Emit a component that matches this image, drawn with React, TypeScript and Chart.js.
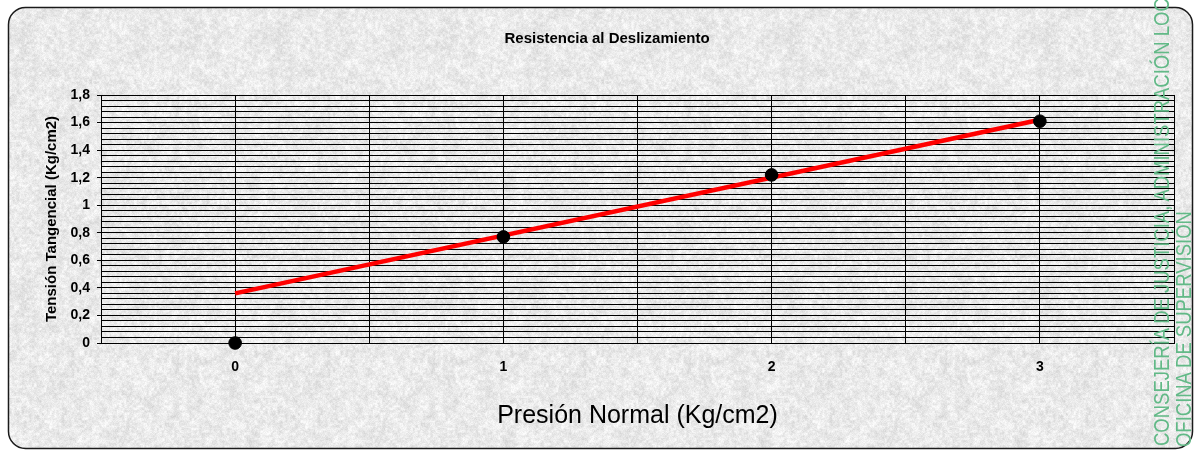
import React, { useEffect, useRef } from "react";
import { Chart, registerables } from "chart.js";

Chart.register(...registerables);

// ---- data ----
const xValues = [0, 1, 2, 3];
const yValues = [0, 0.77, 1.22, 1.61];
const trendX = [0, 3];
const trendY = [0.36, 1.62];
const xTickLabels = ["0", "1", "2", "3"];
const yTickLabels = ["0", "0,2", "0,4", "0,6", "0,8", "1", "1,2", "1,4", "1,6", "1,8"];

const FONT = "'Liberation Sans', Arial, sans-serif";
const W = 1195;
const H = 450;

function hash2(x: number, y: number): number {
  let h = (Math.imul(x, 374761393) + Math.imul(y, 668265263)) | 0;
  h = Math.imul(h ^ (h >>> 13), 1274126177);
  h = h ^ (h >>> 16);
  return (h >>> 0) / 4294967296;
}

function valueNoise(x: number, y: number, period: number): number {
  const x0 = Math.floor(x);
  const y0 = Math.floor(y);
  const fx = x - x0;
  const fy = y - y0;
  const sx = fx * fx * (3 - 2 * fx);
  const sy = fy * fy * (3 - 2 * fy);
  const w = (v: number) => ((v % period) + period) % period;
  const a = hash2(w(x0), w(y0));
  const b = hash2(w(x0 + 1), w(y0));
  const c = hash2(w(x0), w(y0 + 1));
  const d = hash2(w(x0 + 1), w(y0 + 1));
  return (a * (1 - sx) + b * sx) * (1 - sy) + (c * (1 - sx) + d * sx) * sy;
}

function makeTexture(): HTMLCanvasElement {
  const size = 256;
  const c = document.createElement("canvas");
  c.width = size;
  c.height = size;
  const g = c.getContext("2d")!;
  const img = g.createImageData(size, size);
  for (let y = 0; y < size; y++) {
    for (let x = 0; x < size; x++) {
      const n1 = valueNoise(x / 8, y / 8, size / 8);
      const n2 = valueNoise(x / 2.5, y / 2.5, Math.round(size / 2.5));
      const n3 = hash2(x + 1000, y + 2000);
      const v = 0.25 * n1 + 0.45 * n2 + 0.3 * n3;
      let gray = 208 + v * 52;
      if (gray > 252) gray = 252;
      const i = (y * size + x) * 4;
      img.data[i] = gray;
      img.data[i + 1] = gray;
      img.data[i + 2] = gray;
      img.data[i + 3] = 255;
    }
  }
  g.putImageData(img, 0, 0);
  return c;
}

function roundRectPath(ctx: CanvasRenderingContext2D, x: number, y: number, w: number, h: number, r: number) {
  ctx.beginPath();
  ctx.moveTo(x + r, y);
  ctx.lineTo(x + w - r, y);
  ctx.arcTo(x + w, y, x + w, y + r, r);
  ctx.lineTo(x + w, y + h - r);
  ctx.arcTo(x + w, y + h, x + w - r, y + h, r);
  ctx.lineTo(x + r, y + h);
  ctx.arcTo(x, y + h, x, y + h - r, r);
  ctx.lineTo(x, y + r);
  ctx.arcTo(x, y, x + r, y, r);
  ctx.closePath();
}

const isMajorY = (v: number) => Math.abs(v / 0.2 - Math.round(v / 0.2)) < 1e-6;

export default function App() {
  const ref = useRef<HTMLCanvasElement | null>(null);

  useEffect(() => {
    document.body.style.margin = "0";
    const canvas = ref.current!;
    const texture = makeTexture();

    const bgPlugin = {
      id: "bgPlugin",
      beforeDraw(chart: any) {
        const ctx: CanvasRenderingContext2D = chart.ctx;
        ctx.save();
        ctx.fillStyle = "#ffffff";
        ctx.fillRect(0, 0, W, H);
        const pat = ctx.createPattern(texture, "repeat");
        roundRectPath(ctx, 8.5, 7.5, 1184, 441, 17);
        ctx.fillStyle = pat || "#e6e6e6";
        ctx.fill();
        ctx.lineWidth = 1.5;
        ctx.strokeStyle = "#1a1a1a";
        ctx.stroke();
        ctx.restore();
      },
    };

    const chart = new Chart(canvas, {
      type: "scatter",
      data: {
        datasets: [
          {
            label: "Puntos",
            data: xValues.map((x, i) => ({ x, y: yValues[i] })),
            backgroundColor: "#000000",
            borderColor: "#000000",
            pointRadius: 6.3,
            pointHoverRadius: 6.3,
            showLine: false,
            clip: false as any,
            order: 0,
          },
          {
            label: "Ajuste",
            data: trendX.map((x, i) => ({ x, y: trendY[i] })),
            borderColor: "#ff0000",
            backgroundColor: "#ff0000",
            borderWidth: 4.5,
            pointRadius: 0,
            showLine: true,
            order: 1,
          } as any,
        ],
      },
      options: {
        animation: false,
        responsive: false,
        devicePixelRatio: 1,
        events: [],
        layout: { padding: { left: 40, right: 21, top: 0, bottom: 0 } },
        plugins: {
          legend: { display: false },
          tooltip: { enabled: false },
          title: {
            display: true,
            text: "Resistencia al Deslizamiento",
            color: "#000000",
            font: { family: FONT, size: 15, weight: "bold", lineHeight: 1.2 },
            padding: { top: 30, bottom: 47 },
          },
        },
        scales: {
          x: {
            type: "linear",
            min: -0.5,
            max: 3.5,
            afterFit: (scale: any) => {
              scale.height = 107;
            },
            ticks: {
              stepSize: 0.5,
              autoSkip: false,
              maxRotation: 0,
              padding: 16,
              color: "#000000",
              font: { family: FONT, size: 14, weight: "bold" },
              callback: (v: any) => {
                const n = Number(v);
                const r = Math.round(n);
                if (Math.abs(n - r) < 1e-6) {
                  const idx = xValues.indexOf(r);
                  return idx >= 0 ? xTickLabels[idx] : "";
                }
                return "";
              },
            },
            grid: { color: "#000000", lineWidth: 1, drawTicks: false },
            border: { color: "#000000", width: 1 },
            title: {
              display: true,
              text: "Presión Normal (Kg/cm2)",
              color: "#000000",
              font: { family: FONT, size: 25, weight: "normal", lineHeight: 1.2 },
              padding: { top: 0, bottom: 19 },
            },
          },
          y: {
            type: "linear",
            min: 0,
            max: 1.8,
            afterFit: (scale: any) => {
              scale.width = 61;
            },
            ticks: {
              stepSize: 0.04,
              autoSkip: false,
              padding: 7,
              color: "#000000",
              font: { family: FONT, size: 14, weight: "bold" },
              callback: (v: any) => {
                const n = Number(v);
                if (isMajorY(n)) {
                  const idx = Math.round(n / 0.2);
                  return yTickLabels[idx] ?? "";
                }
                return "";
              },
            },
            grid: {
              color: "#000000",
              lineWidth: 1,
              drawTicks: true,
              tickLength: 4,
              tickColor: (c: any) => (c.tick && isMajorY(c.tick.value) ? "#000000" : "rgba(0,0,0,0)"),
            },
            border: { color: "#000000", width: 1 },
            title: {
              display: true,
              text: "Tensión Tangencial (Kg/cm2)",
              color: "#000000",
              font: { family: FONT, size: 15, weight: "bold", lineHeight: 1.2 },
              padding: { top: 3, bottom: 0 },
            },
          },
        },
      },
      plugins: [bgPlugin],
    });

    return () => chart.destroy();
  }, []);

  const wmStyle: React.CSSProperties = {
    position: "absolute",
    whiteSpace: "nowrap",
    transformOrigin: "0 0",
    transform: "rotate(-90deg) scaleX(0.84)",
    color: "#62b987",
    fontFamily: FONT,
    fontSize: "22px",
    lineHeight: "22px",
    height: "22px",
    fontWeight: 300,
  };

  return (
    <div style={{ position: "relative", width: W, height: H, overflow: "hidden", background: "#ffffff" }}>
      <canvas ref={ref} width={W} height={H} style={{ display: "block", width: W, height: H }} />
      <div style={{ ...wmStyle, left: 1151, top: 446 }}>
        CONSEJERÍA DE JUSTICIA, ADMINISTRACIÓN LOCAL Y RELACIONES INSTITUCIONALES
      </div>
      <div style={{ ...wmStyle, left: 1173, top: 447 }}>OFICINA DE SUPERVISIÓN</div>
    </div>
  );
}
